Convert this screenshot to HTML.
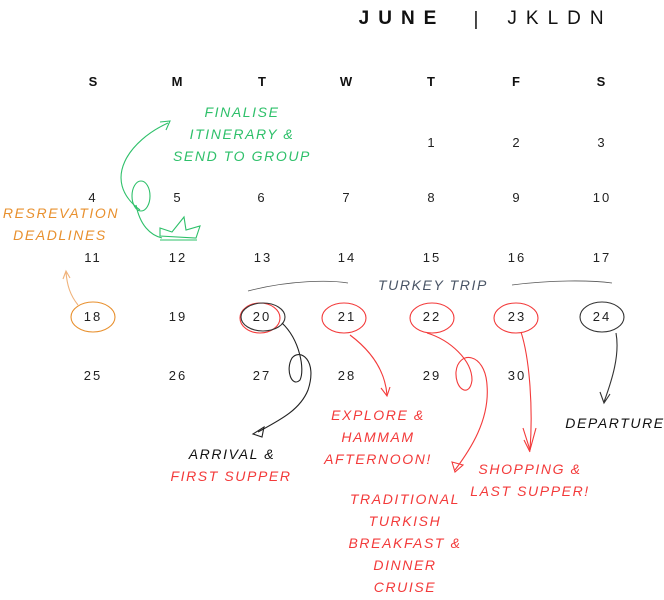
<!DOCTYPE html>
<html><head><meta charset="utf-8"><style>
html,body{margin:0;padding:0;background:#fff;}
svg{display:block;}
.d{font-family:"Liberation Sans",sans-serif;font-size:13px;fill:#222;text-anchor:middle;letter-spacing:2px;}
.h{font-family:"Liberation Sans",sans-serif;font-size:13px;font-weight:bold;fill:#111;text-anchor:middle;}
.n{font-family:"Liberation Sans",sans-serif;font-style:italic;font-size:14px;letter-spacing:1.6px;text-anchor:middle;}
.g{fill:#2ec06a}.o{fill:#e8902e}.r{fill:#f33a3a}.k{fill:#111}.s{fill:#4a5566}
</style></head><body>
<svg width="664" height="600" viewBox="0 0 664 600" xmlns="http://www.w3.org/2000/svg">
<text x="402" y="24" font-family="Liberation Sans,sans-serif" font-size="19" font-weight="bold" letter-spacing="9" text-anchor="middle" fill="#111">JUNE</text>
<text x="476" y="25" font-family="Liberation Sans,sans-serif" font-size="19" text-anchor="middle" fill="#111">|</text>
<text x="560" y="24" font-family="Liberation Sans,sans-serif" font-size="19" letter-spacing="9" text-anchor="middle" fill="#111">JKLDN</text>
<g class="h"><text x="93" y="86">S</text><text x="177" y="86">M</text><text x="262" y="86">T</text><text x="346" y="86">W</text><text x="431" y="86">T</text><text x="516" y="86">F</text><text x="601" y="86">S</text></g>
<g class="d">
<text x="432" y="147">1</text><text x="517" y="147">2</text><text x="602" y="147">3</text>
<text x="93" y="202">4</text><text x="178" y="202">5</text><text x="262" y="202">6</text><text x="347" y="202">7</text><text x="432" y="202">8</text><text x="517" y="202">9</text><text x="602" y="202">10</text>
<text x="93" y="262">11</text><text x="178" y="262">12</text><text x="263" y="262">13</text><text x="347" y="262">14</text><text x="432" y="262">15</text><text x="517" y="262">16</text><text x="602" y="262">17</text>
<text x="93" y="321">18</text><text x="178" y="321">19</text><text x="262" y="321">20</text><text x="347" y="321">21</text><text x="432" y="321">22</text><text x="517" y="321">23</text><text x="602" y="321">24</text>
<text x="93" y="380">25</text><text x="178" y="380">26</text><text x="262" y="380">27</text><text x="347" y="380">28</text><text x="432" y="380">29</text><text x="517" y="380">30</text>
</g>
<g fill="none" stroke-width="1.1">
<!-- green -->
<path d="M140 210 C100 180,130 140,168 123" stroke="#2ec06a"/>
<path d="M160 122 L170 121 L166 130" stroke="#2ec06a"/>
<ellipse cx="141" cy="196" rx="9" ry="15" stroke="#2ec06a"/>
<path d="M136 205 C140 225,150 235,162 238" stroke="#2ec06a"/>
<path d="M160 236 L160 228 L172 232 L184 217 L186 230 L200 226 L196 238 Z M160 240 L197 240" stroke="#2ec06a"/>
<!-- orange -->
<ellipse cx="93" cy="317" rx="22" ry="15" stroke="#e8902e"/>
<path d="M78 305 C70 295,67 285,66 272 M63 279 L66 271 L70 278" stroke="#f0b27a"/>
<!-- trip arcs -->
<path d="M248 291 C290 280,330 280,348 283" stroke="#555" stroke-width="0.8"/>
<path d="M512 285 C550 280,590 280,612 283" stroke="#555" stroke-width="0.8"/>
<!-- circles -->
<ellipse cx="260" cy="318" rx="20" ry="15" stroke="#f33a3a"/>
<ellipse cx="263" cy="317" rx="22" ry="14" stroke="#333"/>
<ellipse cx="344" cy="318" rx="22" ry="15" stroke="#f33a3a"/>
<ellipse cx="432" cy="318" rx="22" ry="15" stroke="#f33a3a"/>
<ellipse cx="516" cy="318" rx="22" ry="15" stroke="#f33a3a"/>
<ellipse cx="602" cy="317" rx="22" ry="15" stroke="#333"/>
<!-- 20 arrow -->
<path d="M282 323 C300 340,305 370,300 380 C292 388,285 370,292 358 C300 348,318 360,308 390 C300 410,280 420,258 432" stroke="#222"/>
<path d="M253 434 L264 427 L262 437 Z" stroke="#222"/>
<!-- 21 arrow -->
<path d="M350 335 C370 350,385 370,387 395" stroke="#f33a3a"/>
<path d="M381 388 L387 396 L390 387" stroke="#f33a3a"/>
<!-- 22 arrow -->
<path d="M427 333 C450 340,472 360,472 380 C470 398,455 390,456 372 C458 350,485 352,487 385 C490 420,470 450,455 470" stroke="#f33a3a"/>
<path d="M452 462 L455 472 L463 465 Z" stroke="#f33a3a"/>
<!-- 23 arrow -->
<path d="M521 332 C530 360,533 410,530 450" stroke="#f33a3a"/>
<path d="M523 428 L530 450 L536 428 M524 440 L530 452" stroke="#f33a3a"/>
<!-- 24 arrow -->
<path d="M616 333 C620 355,612 380,604 402 M600 392 L604 403 L610 394" stroke="#333"/>
</g>
<text class="n g" x="242" y="117">FINALISE</text>
<text class="n g" x="242" y="139">ITINERARY &amp;</text>
<text class="n g" x="242" y="161">SEND TO GROUP</text>
<text class="n o" x="61" y="218">RESREVATION</text>
<text class="n o" x="60" y="240">DEADLINES</text>
<text class="n s" x="433" y="290">TURKEY TRIP</text>
<text class="n k" x="232" y="459">ARRIVAL &amp;</text>
<text class="n r" x="231" y="481">FIRST SUPPER</text>
<text class="n r" x="378" y="420">EXPLORE &amp;</text>
<text class="n r" x="378" y="442">HAMMAM</text>
<text class="n r" x="378" y="464">AFTERNOON!</text>
<text class="n r" x="405" y="504">TRADITIONAL</text>
<text class="n r" x="405" y="526">TURKISH</text>
<text class="n r" x="405" y="548">BREAKFAST &amp;</text>
<text class="n r" x="405" y="570">DINNER</text>
<text class="n r" x="405" y="592">CRUISE</text>
<text class="n r" x="530" y="474">SHOPPING &amp;</text>
<text class="n r" x="530" y="496">LAST SUPPER!</text>
<text class="n k" x="615" y="428">DEPARTURE</text>
</svg>
</body></html>
